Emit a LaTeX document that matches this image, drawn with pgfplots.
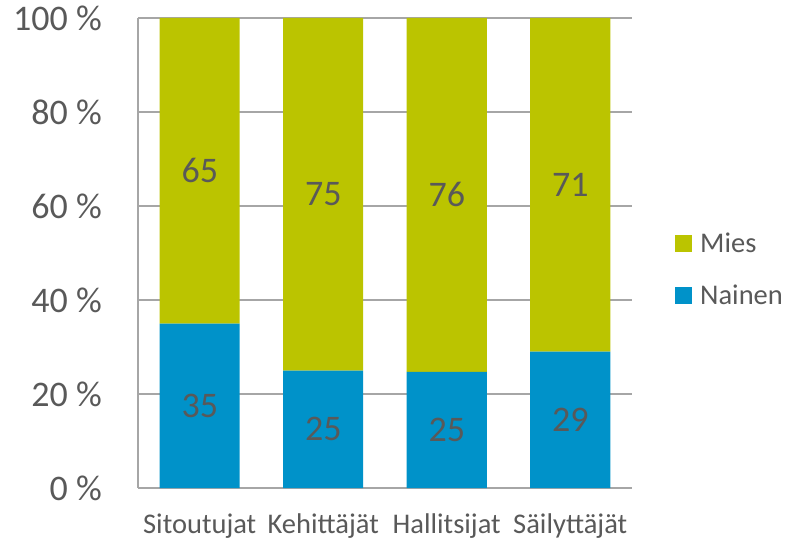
\documentclass[border=0pt]{standalone}
\usepackage{pgfplots}
\pgfplotsset{compat=1.18}
\usepackage{pgfplotstable}
\usepackage{fontspec}
\setmainfont{Carlito}
\definecolor{mies}{RGB}{187,196,0}
\definecolor{nainen}{RGB}{0,146,201}
\definecolor{txt}{RGB}{89,89,89}
\definecolor{gridc}{RGB}{166,166,166}
\pgfplotstableread{
x nainen mies nlab mlab
0 35   65   35 65
1 25   75   25 75
2 24.7 75.3 25 76
3 29   71   29 71
}\data
\begin{document}
\begin{tikzpicture}
\pgfplotsset{base/.style={
  scale only axis, width=494pt, height=470pt,
  xmin=-0.5, xmax=3.5, ymin=0, ymax=100,
  anchor=south west, at={(0pt,0pt)},
}}
\begin{axis}[base,
  ybar stacked, bar width=80pt,
  axis x line*=bottom, axis y line*=left,
  axis line style={draw=gridc, line width=1.2pt},
  ymajorgrids, grid style={draw=gridc, line width=1.2pt},
  major tick length=0pt,
  xtick=data, xticklabels={Sitoutujat,Kehittäjät,Hallitsijat,Säilyttäjät},
  ytick={0,20,40,60,80,100}, yticklabels={0 \%,20 \%,40 \%,60 \%,80 \%,100 \%},
  yticklabel style={font=\fontsize{36}{40}\selectfont, text=txt, inner sep=0pt, anchor=east, xshift=-36pt},
  xticklabel style={font=\fontsize{28.5}{32}\selectfont, text=txt, inner sep=0pt, anchor=base, yshift=-45pt},
  reverse legend,
  legend style={at={(1.087,0.465)}, anchor=west, draw=none, fill=none, inner sep=0pt,
    font=\fontsize{28.5}{32}\selectfont, text=txt, row sep=30pt,
    nodes={inner sep=0pt}, column sep=8pt},
  legend cell align=left,
]
\addplot[fill=nainen, draw=none, legend image code/.code={\fill[nainen] (0pt,-8.5pt) rectangle (17pt,8.5pt);}] table[x=x, y=nainen]{\data};
\addlegendentry{Nainen}
\addplot[fill=mies, draw=none, legend image code/.code={\fill[mies] (0pt,-8.5pt) rectangle (17pt,8.5pt);}] table[x=x, y=mies]{\data};
\addlegendentry{Mies}
\end{axis}
\begin{axis}[base, hide axis]
\addplot[draw=none, mark=none, nodes near coords, point meta=explicit symbolic,
  nodes near coords align={center},
  every node near coord/.append style={font=\fontsize{36}{40}\selectfont, text=txt, anchor=center}]
  table[x=x, y expr=\thisrow{nainen}/2, meta=nlab]{\data};
\addplot[draw=none, mark=none, nodes near coords, point meta=explicit symbolic,
  nodes near coords align={center},
  every node near coord/.append style={font=\fontsize{36}{40}\selectfont, text=txt, anchor=center}]
  table[x=x, y expr=\thisrow{nainen}+\thisrow{mies}/2, meta=mlab]{\data};
\end{axis}
\pgfresetboundingbox
\useasboundingbox (-138pt,-53pt) rectangle (648pt,488pt);
\end{tikzpicture}
\end{document}
